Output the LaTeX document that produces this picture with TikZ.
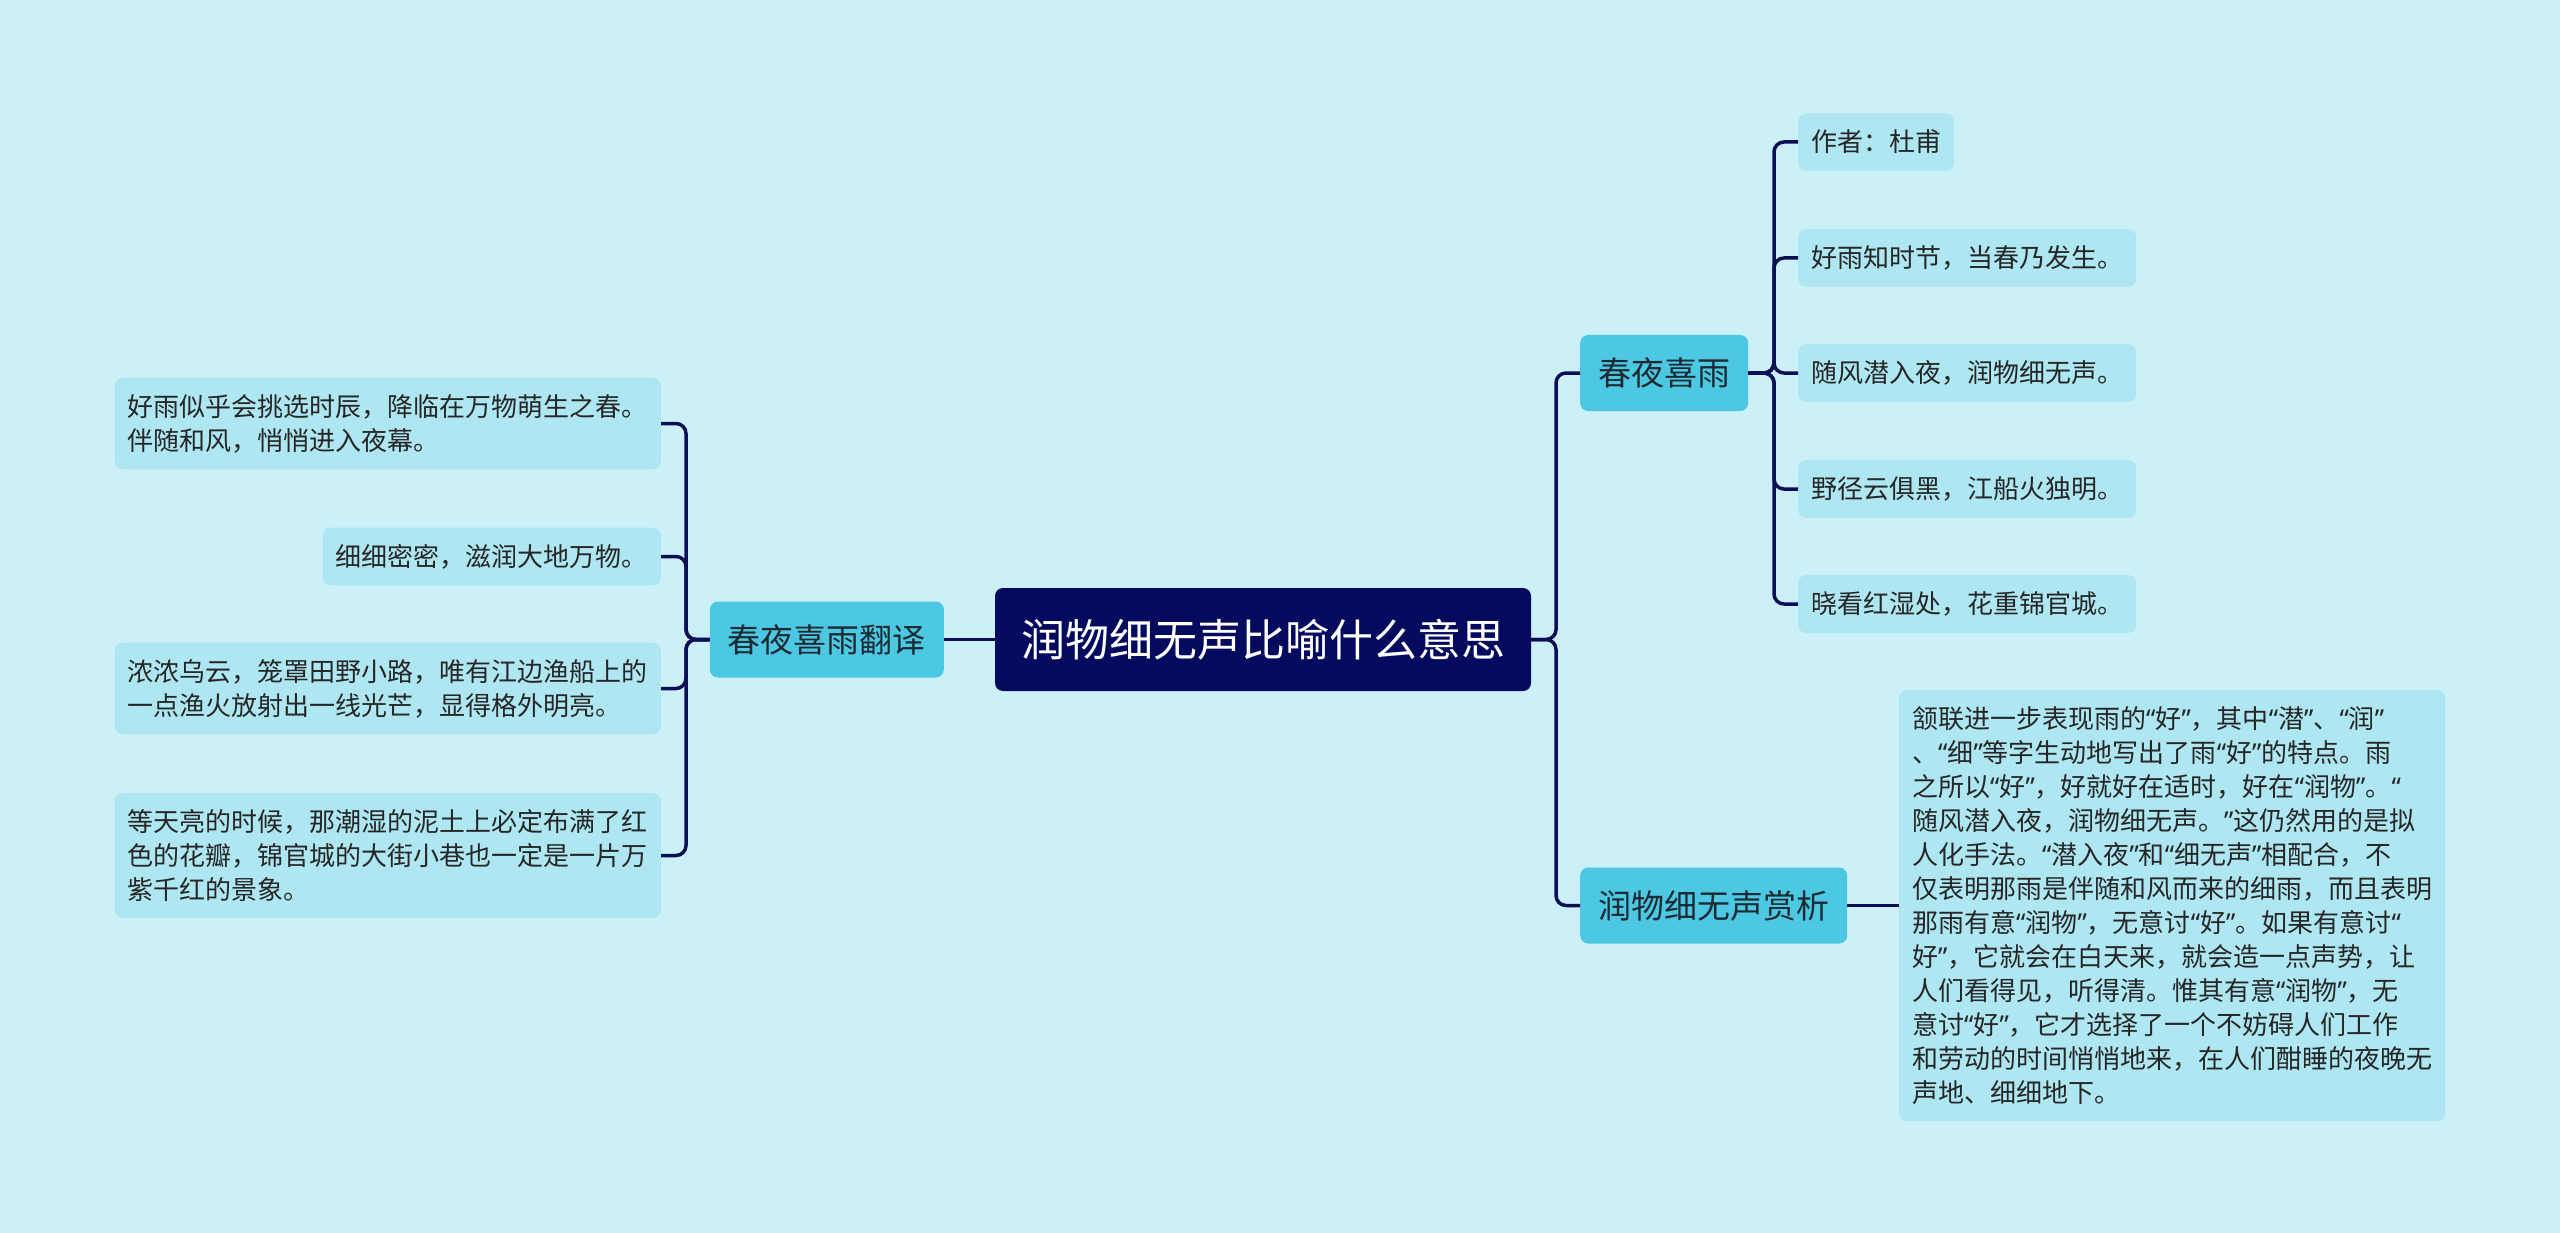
\documentclass[tikz,border=0pt]{standalone}
\usepackage{fontspec}
\setmainfont{Noto Sans CJK SC}
\newfontfamily\qtfont{Noto Sans}
\newcommand\qo{{\qtfont “}}
\newcommand\qc{{\qtfont ”}}
\definecolor{bgcol}{HTML}{CCF0F7}
\definecolor{leafcol}{HTML}{AEE6F2}
\definecolor{maincol}{HTML}{4DC8E2}
\definecolor{rootcol}{HTML}{040A5E}
\definecolor{linecol}{HTML}{0C0F55}
\definecolor{inkcol}{HTML}{1C2B33}
\tikzset{
  rootbox/.style={rectangle, rounded corners=8pt, fill=rootcol, text=white,
    font=\fontsize{44}{50}\selectfont, minimum height=103pt, inner xsep=26pt},
  mainbox/.style={rectangle, rounded corners=8pt, fill=maincol, text=inkcol,
    font=\fontsize{33}{40}\selectfont, minimum height=76pt, inner xsep=18pt},
  leafbox/.style={rectangle, rounded corners=8pt, fill=leafcol, text=black!85,
    font=\fontsize{26}{34}\selectfont, align=left, inner xsep=13pt, inner ysep=16.5pt},
  link/.style={draw=linecol, line width=3.5pt, rounded corners=10pt}
}

\begin{document}
\begin{tikzpicture}[x=1pt, y=-1pt]
        % Canvas
        \fill[bgcol] (0,0) rectangle (2560,1233);
        \useasboundingbox (0,0) rectangle (2560,1233);
        % Root
        \node[rootbox] (root) at (1263,639.5) {润物细无声比喻什么意思};
        % Main topics
        \node[mainbox, anchor=east] (fanyi) at (944,639.5) {春夜喜雨翻译};
        \node[mainbox, anchor=west] (shi) at (1580,373) {春夜喜雨};
        \node[mainbox, anchor=west] (shangxi) at (1580,905.5) {润物细无声赏析};
        % Translation leaves (left side)
        \node[leafbox, anchor=east] (t1) at (661,423.5) {好雨似乎会挑选时辰，降临在万物萌生之春。\\伴随和风，悄悄进入夜幕。};
        \node[leafbox, anchor=east] (t2) at (661,556.5) {细细密密，滋润大地万物。};
        \node[leafbox, anchor=east] (t3) at (661,688.5) {浓浓乌云，笼罩田野小路，唯有江边渔船上的\\一点渔火放射出一线光芒，显得格外明亮。};
        \node[leafbox, anchor=east] (t4) at (661,855.5) {等天亮的时候，那潮湿的泥土上必定布满了红\\色的花瓣，锦官城的大街小巷也一定是一片万\\紫千红的景象。};
        % Poem lines (right side)
        \foreach \k/\y/\txt in {1/142/作者：杜甫, 2/258/好雨知时节，当春乃发生。,
            3/373/随风潜入夜，润物细无声。, 4/489/野径云俱黑，江船火独明。,
            5/604/晓看红湿处，花重锦官城。} {
            \node[leafbox, anchor=west] (p\k) at (1798,\y) {\txt};
        }
        % Appreciation leaf
        \node[leafbox, anchor=west] (a1) at (1899,905.5) {颔联进一步表现雨的\qo 好\qc ，其中\qo 潜\qc 、\qo 润\qc\\、\qo 细\qc 等字生动地写出了雨\qo 好\qc 的特点。雨\\之所以\qo 好\qc ，好就好在适时，好在\qo 润物\qc 。\qo\\随风潜入夜，润物细无声。\qc 这仍然用的是拟\\人化手法。\qo 潜入夜\qc 和\qo 细无声\qc 相配合，不\\仅表明那雨是伴随和风而来的细雨，而且表明\\那雨有意\qo 润物\qc ，无意讨\qo 好\qc 。如果有意讨\qo\\好\qc ，它就会在白天来，就会造一点声势，让\\人们看得见，听得清。惟其有意\qo 润物\qc ，无\\意讨\qo 好\qc ，它才选择了一个不妨碍人们工作\\和劳动的时间悄悄地来，在人们酣睡的夜晚无\\声地、细细地下。};
        % Connectors
        \draw[link] (root.west) -- (fanyi.east);
        \foreach \k in {1,2,3,4} {
            \draw[link] (fanyi.west) -- (686,639.5) |- (t\k.east);
        }
        \draw[link] (root.east) -- (1556,639.5) |- (shi.west);
        \draw[link] (root.east) -- (1556,639.5) |- (shangxi.west);
        \foreach \k in {1,...,5} {
            \draw[link] (shi.east) -- (1774,373) |- (p\k.west);
        }
        \draw[link] (shangxi.east) -- (a1.west);
\end{tikzpicture}
\end{document}
